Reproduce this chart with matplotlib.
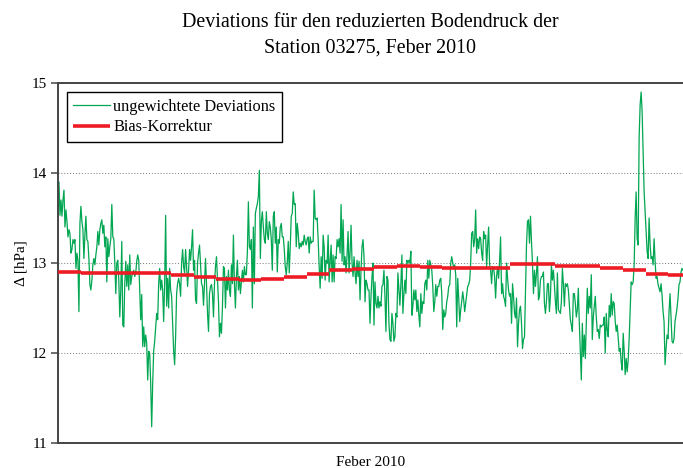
import numpy as np
import matplotlib
matplotlib.use("Agg")
import matplotlib.pyplot as plt

plt.rcParams['font.family'] = ['Liberation Serif', 'DejaVu Serif']

# Ungewichtete Deviations (hPa), etwa stündlich
deviations = [
    13.89, 13.90, 13.53, 13.70, 13.52, 13.70, 13.81, 13.40, 13.59, 13.46, 13.29, 13.37, 13.33, 13.11, 13.15, 13.26,
    13.22, 13.26, 12.94, 13.11, 13.03, 12.46, 13.44, 13.63, 13.46, 13.37, 13.05, 13.31, 13.52, 13.26, 13.24, 13.05,
    12.76, 12.70, 12.81, 12.98, 13.05, 12.98, 13.09, 13.18, 13.35, 13.20, 13.37, 13.44, 13.48, 13.33, 13.42, 13.18,
    13.29, 12.79, 13.27, 13.07, 13.18, 13.27, 13.65, 13.29, 13.27, 13.00, 12.66, 13.00, 13.03, 12.81, 12.40, 12.70,
    13.24, 12.31, 12.29, 12.77, 13.02, 12.74, 12.98, 12.70, 13.09, 12.76, 12.85, 12.89, 12.92, 12.85, 12.89,
    # ~135 px
    13.02, 13.09, 13.03, 12.70, 12.37, 12.65, 12.07, 12.29, 12.07, 12.20, 12.11, 11.70, 12.02, 12.00, 11.66, 11.18,
    11.66, 12.02, 12.13, 12.29, 12.44, 12.37, 12.77, 12.94, 12.70, 12.81, 12.70, 12.35, 12.77, 13.53, 12.52, 12.83,
    12.50, 12.94, 12.70, 12.63, 12.33, 12.03, 11.87, 12.18, 12.66, 12.77, 12.83, 12.77, 12.63, 13.00, 13.15, 12.96,
    12.89, 13.15, 12.96, 12.74, 12.92, 13.15, 13.03, 13.18, 13.37, 12.92, 13.03, 12.59, 12.55, 13.00, 13.11, 13.20,
    12.98, 12.77, 12.74, 12.53, 12.77, 13.05, 12.77, 12.44, 12.24, 12.66, 12.74, 12.76, 12.66, 12.40, 12.77, 12.96,
    # ~215 px
    13.07, 12.81, 12.57, 12.18, 12.33, 12.22, 12.52, 12.96, 12.94, 12.50, 12.85, 12.70, 12.92, 12.70, 12.63, 12.98,
    12.77, 13.31, 12.77, 12.50, 12.85, 13.03, 12.70, 12.85, 12.66, 12.79, 12.92, 12.79, 12.96, 12.87, 12.87, 13.13,
    13.68, 13.18, 13.15, 13.26, 12.50, 13.40, 12.77, 13.55, 13.61, 13.66, 13.74, 14.03, 13.05, 13.46, 13.57, 13.40,
    13.26, 13.22, 13.57, 13.33, 13.26, 13.46, 13.40, 13.26, 12.92, 13.52, 13.57, 13.22, 13.40, 12.90, 13.26, 13.22,
    13.40, 13.44, 13.29, 13.29, 13.15, 12.96, 12.87, 13.00, 13.24, 12.89, 13.18, 13.52, 13.55, 13.79, 13.65, 13.66,
    # ~295 px
    13.18, 13.44, 13.33, 13.16, 13.22, 13.18, 13.24, 13.20, 13.31, 13.24, 13.20, 13.27, 13.29, 13.11, 13.29, 13.22,
    13.24, 13.24, 13.81, 13.50, 13.48, 13.50, 13.26, 12.96, 12.72, 13.07, 12.83, 13.31, 13.18, 12.81, 13.03, 13.00,
    13.31, 12.79, 13.02, 13.20, 12.79, 13.09, 12.79, 13.07, 13.05, 13.26, 13.18, 13.27, 13.11, 13.65, 13.02, 13.48,
    12.98, 13.07, 12.89, 13.09, 13.35, 12.89, 13.11, 13.42, 13.00, 12.85, 13.07, 12.89, 12.77, 13.03, 12.85, 13.02,
    12.59, 12.92, 13.18, 13.26, 13.07, 12.57, 12.81, 12.77, 12.70, 12.70, 12.33, 12.63, 12.85, 13.00, 12.31, 12.79,
    # ~375 px
    12.55, 12.50, 12.63, 12.50, 12.57, 12.52, 12.74, 12.76, 12.92, 12.63, 12.24, 12.85, 12.81, 12.33, 12.15, 12.13,
    12.44, 12.33, 12.13, 12.18, 12.44, 12.40, 12.89, 12.70, 12.53, 12.77, 13.09, 12.44, 12.65, 12.81, 12.66, 13.03,
    13.00, 13.03, 13.00, 13.13, 12.42, 12.52, 12.70, 12.59, 12.70, 12.46, 12.59, 12.42, 12.29, 12.66, 12.44, 12.57,
    12.55, 12.77, 12.81, 12.70, 13.03, 12.83, 13.03, 12.98, 12.92, 12.74, 12.46, 12.57, 12.76, 12.63, 12.74, 12.74,
    12.81, 12.83, 12.66, 12.26, 12.48, 12.40, 12.44, 12.57, 12.63, 12.74, 12.76, 13.00, 13.07, 13.00, 12.94, 12.98,
    # ~455 px
    12.87, 12.29, 12.83, 12.61, 12.35, 12.48, 12.57, 12.68, 12.59, 12.46, 12.55, 12.63, 12.74, 12.76, 12.81, 13.00,
    13.33, 13.35, 13.18, 13.26, 13.59, 13.11, 13.27, 13.16, 13.29, 13.27, 13.11, 13.03, 13.35, 13.27, 13.31, 12.96,
    13.20, 13.40, 12.98, 12.92, 12.77, 12.96, 12.94, 12.85, 12.61, 12.85, 12.96, 12.83, 13.02, 13.29, 12.66, 12.77,
    12.63, 12.59, 12.52, 13.00, 12.83, 12.70, 12.63, 12.66, 12.33, 12.77, 12.63, 12.44, 12.39, 12.61, 12.07, 12.33,
    12.48, 12.52, 12.33, 12.05, 12.15, 12.18, 12.70, 13.20, 13.46, 13.48, 13.22, 13.52, 13.24, 13.00, 12.66, 12.92,
    # ~535 px
    12.74, 12.89, 13.07, 12.59, 12.63, 12.81, 12.85, 12.85, 12.90, 12.55, 12.44, 12.57, 12.77, 12.77, 12.46, 12.63,
    12.98, 12.81, 12.92, 12.76, 12.57, 12.44, 12.89, 12.48, 12.46, 12.44, 12.57, 12.94, 12.77, 12.52, 12.77, 12.74,
    12.77, 12.70, 12.53, 12.37, 12.31, 12.24, 12.66, 12.66, 12.55, 12.40, 12.48, 12.72, 12.33, 12.03, 11.70, 12.33,
    11.96, 12.20, 11.94, 12.33, 12.72, 12.44, 12.63, 12.50, 12.87, 12.15, 12.40, 12.52, 12.63, 12.40, 12.24, 12.26,
    12.16, 12.31, 12.29, 12.31, 12.31, 12.40, 12.00, 12.44, 12.26, 12.18, 12.53, 12.40, 12.66, 12.42, 12.57, 12.55,
    # ~615 px
    12.35, 12.24, 12.31, 12.16, 12.02, 12.05, 11.90, 11.81, 12.22, 12.02, 11.76, 11.94, 11.79, 11.92, 12.16, 12.46,
    12.79, 12.76, 12.79, 12.98, 13.50, 13.79, 13.27, 13.20, 14.40, 14.76, 14.90, 14.68, 14.24, 13.79, 13.57, 13.35,
    13.13, 13.05, 13.50, 13.20, 13.05, 13.07, 12.98, 13.27, 13.02, 12.83, 12.85, 12.76, 12.72, 12.68, 12.77, 12.64,
    12.46, 12.35, 11.87, 12.05, 12.20, 12.16, 12.46, 12.66, 12.39, 12.13, 12.11, 12.16, 12.35, 12.42, 12.50, 12.61,
    12.76, 12.79, 12.90, 12.94, 12.92,
]

# Bias-Korrektur, ein Wert pro Tag (Feber 2010)
days = np.arange(28)
bias = [12.90, 12.89, 12.89, 12.89, 12.89, 12.87, 12.84, 12.82, 12.81, 12.82, 12.84, 12.88, 12.92, 12.93,
        12.96, 12.97, 12.96, 12.94, 12.94, 12.95, 12.99, 12.99, 12.97, 12.97, 12.95, 12.92, 12.88, 12.87]

x_end = 27.65  # Bild ist rechts abgeschnitten
t = np.linspace(0, x_end, len(deviations))

fig = plt.figure(figsize=(6.83, 4.68), dpi=100)
ax = fig.add_axes([0.0849, 0.0534, 0.9151, 0.7692])

ax.plot(t, deviations, color='#00a651', lw=0.9, label='ungewichtete Deviations', zorder=2)
ax.hlines(bias, days, days + 1, color='#ed1c24', lw=2.6, label='Bias-Korrektur', zorder=3)

ax.set_xlim(0, x_end)
ax.set_ylim(11, 15)
ax.set_yticks([11, 12, 13, 14, 15])
ax.set_xticks([])
ax.grid(axis='y', color='#777777', linestyle=(0, (1, 2)), linewidth=0.7)
ax.tick_params(axis='y', direction='out', length=5, width=1.2, color='#555555', labelsize=11, pad=3)
for s in ['left', 'top', 'bottom']:
    ax.spines[s].set_color('#444444')
    ax.spines[s].set_linewidth(1.4)
ax.spines['right'].set_visible(False)

ax.set_ylabel('Δ [hPa]', fontsize=11, labelpad=3)
ax.set_xlabel('Feber 2010', fontsize=11, labelpad=9)
ax.set_title('Deviations für den reduzierten Bodendruck der\nStation 03275, Feber 2010',
             fontsize=14.4, linespacing=1.45, pad=22)

leg = ax.legend(loc='upper left', bbox_to_anchor=(0.014, 0.975), fontsize=11.8, frameon=True,
                fancybox=False, edgecolor='black', framealpha=1, borderpad=0.4,
                handlelength=2.25, handletextpad=0.2, labelspacing=0.3, borderaxespad=0)
leg.get_frame().set_linewidth(1.0)

fig.savefig('out.png', dpi=100)
